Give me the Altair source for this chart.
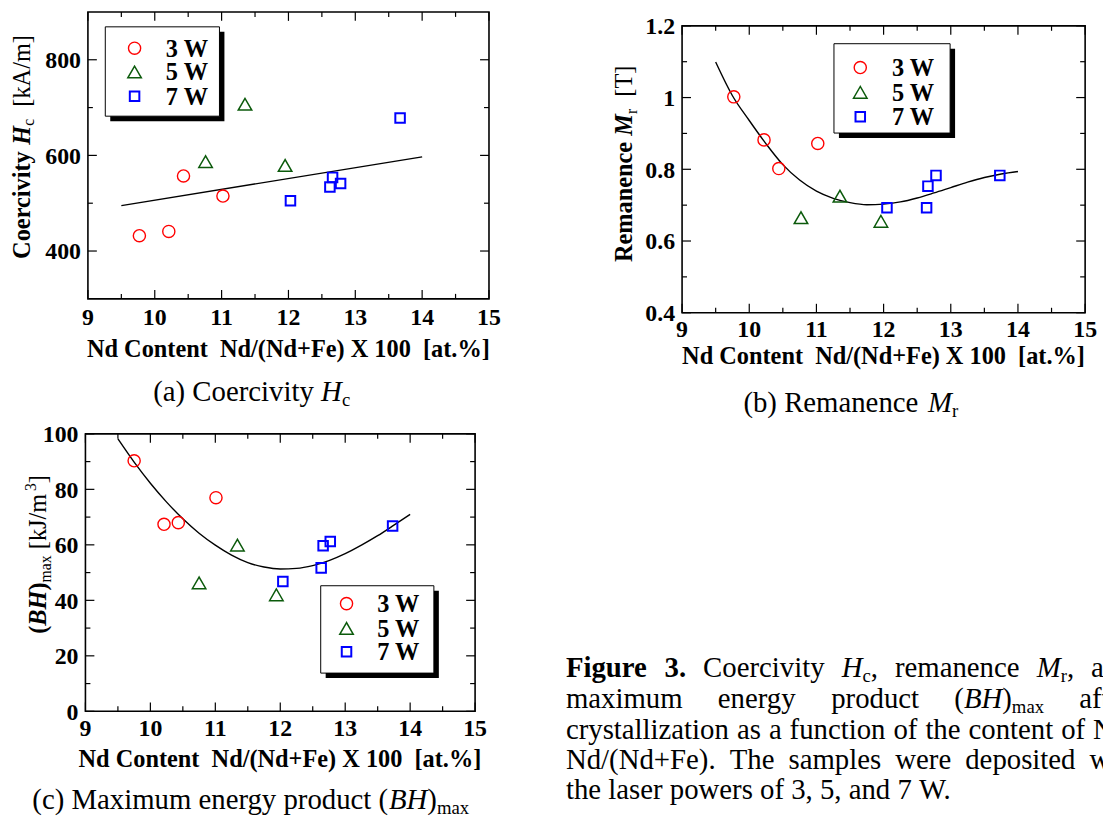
import altair as alt
import pandas as pd

FONT = "Liberation Serif"
OFF = 8  # page margin

# ---------------- data ----------------
series_names = ["3 W", "5 W", "7 W"]

x_tick_values = [9, 10, 11, 12, 13, 14, 15]
x_tick_labels = ["9", "10", "11", "12", "13", "14", "15"]
x_minor_values = [9.5, 10.5, 11.5, 12.5, 13.5, 14.5]

# (a) Coercivity Hc [kA/m]
a_ytick_values = [400, 600, 800]
a_ytick_labels = ["400", "600", "800"]
a_yminor_values = [500, 700]
a_x_3w = [9.77, 10.21, 10.43, 11.02]
a_y_3w = [432, 441, 557, 515]
a_x_5w = [10.76, 11.35, 11.95]
a_y_5w = [587, 707, 579]
a_x_7w = [12.03, 12.62, 12.66, 12.78, 13.67]
a_y_7w = [505, 534, 554, 541, 678]
a_fit_x = [9.5, 14.0]
a_fit_y = [495, 597]

# (b) Remanence Mr [T]
b_ytick_values = [0.4, 0.6, 0.8, 1.0, 1.2]
b_ytick_labels = ["0.4", "0.6", "0.8", "1", "1.2"]
b_yminor_values = [0.5, 0.7, 0.9, 1.1]
b_x_3w = [9.77, 10.22, 10.44, 11.02]
b_y_3w = [1.002, 0.882, 0.802, 0.872]
b_x_5w = [10.77, 11.35, 11.96]
b_y_5w = [0.665, 0.725, 0.655]
b_x_7w = [12.05, 12.64, 12.66, 12.78, 13.73]
b_y_7w = [0.693, 0.693, 0.753, 0.783, 0.783]
b_fit_x = [9.5, 9.75, 10.0, 10.25, 10.5, 10.75, 11.0, 11.25, 11.5, 11.75,
           12.0, 12.25, 12.5, 12.75, 13.0, 13.25, 13.5, 13.75, 14.0]
b_fit_y = [1.099, 1.005, 0.936, 0.871, 0.813, 0.770, 0.739, 0.719, 0.707, 0.701,
           0.703, 0.709, 0.720, 0.734, 0.749, 0.764, 0.777, 0.787, 0.794]

# (c) (BH)max [kJ/m3]
c_ytick_values = [0, 20, 40, 60, 80, 100]
c_ytick_labels = ["0", "20", "40", "60", "80", "100"]
c_yminor_values = [10, 30, 50, 70, 90]
c_x_3w = [9.75, 10.21, 10.43, 11.01]
c_y_3w = [90.3, 67.4, 68.0, 77.0]
c_x_5w = [10.75, 11.34, 11.94]
c_y_5w = [46.3, 59.9, 42.0]
c_x_7w = [12.04, 12.63, 12.66, 12.77, 13.73]
c_y_7w = [46.8, 51.7, 59.7, 61.2, 66.8]
c_fit_x = [9.5, 9.75, 10.0, 10.25, 10.5, 10.75, 11.0, 11.25, 11.5, 11.75,
           12.0, 12.25, 12.5, 12.75, 13.0, 13.25, 13.5, 13.75, 14.0]
c_fit_y = [98.2, 89.8, 82.2, 75.4, 69.4, 64.2, 59.9, 56.3, 53.6, 52.0,
           51.3, 51.5, 52.5, 54.3, 56.8, 59.9, 63.3, 67.1, 71.0]

# ---------------- styles ----------------
COLORS = ["#ff0000", "#0b5a0b", "#0000ff"]
SHAPES = ["circle", "triangle-up", "square"]
SIZES = [150, 185, 92]
STROKES = [1.4, 1.5, 2.0]

# Times-compatible advance widths (per 1000 em) for text layout
REG = {' ': 250, '\u00a0': 250, '(': 333, ')': 333, '+': 564, ',': 250, '.': 250, '/': 278,
       '[': 333, ']': 333, '%': 833, 'A': 722, 'B': 667, 'C': 667, 'F': 556, 'H': 722,
       'M': 889, 'N': 722, 'T': 611, 'W': 944, 'a': 444, 'b': 500, 'c': 444, 'd': 500,
       'e': 444, 'f': 333, 'g': 500, 'h': 500, 'i': 278, 'j': 278, 'k': 500, 'l': 278,
       'm': 778, 'n': 500, 'o': 500, 'p': 500, 'q': 500, 'r': 333, 's': 389, 't': 278,
       'u': 500, 'v': 500, 'w': 722, 'x': 500, 'y': 500, 'z': 444}
BOLD = {' ': 250, '\u00a0': 250, '(': 333, ')': 333, '+': 570, ',': 250, '.': 250, '/': 278,
        '[': 333, ']': 333, '%': 1000, 'C': 722, 'F': 611, 'N': 722, 'R': 722, 'W': 1000,
        'X': 722, 'a': 500, 'c': 444, 'd': 556, 'e': 444, 'g': 500, 'i': 278, 'm': 833,
        'n': 556, 'o': 500, 'r': 444, 't': 333, 'u': 556, 'v': 500, 'y': 500}
ITAL = {'B': 611, 'H': 722, 'M': 833}
BITAL = {'B': 667, 'H': 778, 'M': 889}


def text_width(s, weight, style, size):
    if weight == "bold" and style == "italic":
        t = BITAL
    elif style == "italic":
        t = ITAL
    elif weight == "bold":
        t = BOLD
    else:
        t = REG
    return sum(t.get(ch, REG.get(ch, 500)) for ch in s) * size / 1000.0


records = []


def seg(text, weight="normal", style="normal", scale=1.0, shift=0.0):
    return (text, weight, style, scale, shift)


def segs_width(segs, size):
    return sum(text_width(t, w, s, size * sc) for t, w, s, sc, sh in segs)


def place(segs, x, y, size, angle=0):
    """x, y = page coordinates of the start of the baseline."""
    cum = 0.0
    for t, w, s, sc, sh in segs:
        fs = size * sc
        lead = len(t) - len(t.lstrip(' '))
        lead_w = text_width(t[:lead], w, s, fs)
        body = t.strip(' ').replace(' ', '\u00a0')
        if body:
            if angle == 270:
                px, py = x + sh, y - (cum + lead_w)
            else:
                px, py = x + cum + lead_w, y + sh
            records.append(dict(px=px - OFF, py=py - OFF, text=body, size=fs,
                                angle=angle, weight=w, style=s))
        cum += text_width(t, w, s, fs)
    return cum


def place_center(segs, cx, y, size):
    tot = segs_width(segs, size)
    place(segs, cx - tot / 2.0, y, size)


def place_vertical(segs, xb, cy, size):
    tot = segs_width(segs, size)
    place(segs, xb, cy + tot / 2.0, size, angle=270)


def justify(words, x0, x_last, y, size):
    widths = [segs_width(w, size) for w in words[:-1]]
    gap = (x_last - x0 - sum(widths)) / (len(words) - 1)
    x = x0
    for w, wd in zip(words[:-1], widths):
        place(w, x, y, size)
        x += wd + gap
    place(words[-1], x_last, y, size)


# ---------------- panels ----------------
PANELS = [
    dict(x0=88.5, x1=492.5, y0=9, y1=298, ydom=[300, 900],
         ymaj=a_ytick_values, ylab=a_ytick_labels, ymin=a_yminor_values,
         xlab_dy=26, pts=[(a_x_3w, a_y_3w), (a_x_5w, a_y_5w), (a_x_7w, a_y_7w)],
         fit=(a_fit_x, a_fit_y), interp="linear",
         leg=(106, 24, 221, 114), leg_sym=135.5, leg_txt=167, leg_rows=[45.5, 69.5, 94]),
    dict(x0=687, x1=1093, y0=23, y1=312, ydom=[0.4, 1.2],
         ymaj=b_ytick_values, ylab=b_ytick_labels, ymin=b_yminor_values,
         xlab_dy=24, pts=[(b_x_3w, b_y_3w), (b_x_5w, b_y_5w), (b_x_7w, b_y_7w)],
         fit=(b_fit_x, b_fit_y), interp="monotone",
         leg=(840, 41, 957, 131), leg_sym=866.5, leg_txt=898.5, leg_rows=[65, 90, 114.5]),
    dict(x0=86, x1=478.5, y0=434, y1=713.5, ydom=[0, 100],
         ymaj=c_ytick_values, ylab=c_ytick_labels, ymin=c_yminor_values,
         xlab_dy=25, pts=[(c_x_3w, c_y_3w), (c_x_5w, c_y_5w), (c_x_7w, c_y_7w)],
         fit=(c_fit_x, c_fit_y), interp="monotone",
         leg=(323, 587, 437, 675), leg_sym=349, leg_txt=380, leg_rows=[605, 630, 653.5]),
]

layers = []
TICK_W = 1.2
MAJ, MIN = 9, 5


def rule(df, xs, ys, xf, yf, x2f=None, y2f=None, **kw):
    enc = dict(x=alt.X(xf, scale=xs, axis=None), y=alt.Y(yf, scale=ys, axis=None))
    if x2f:
        enc["x2"] = alt.X2(x2f)
    if y2f:
        enc["y2"] = alt.Y2(y2f)
    return alt.Chart(df).mark_rule(color="black", strokeWidth=TICK_W, **kw).encode(**enc)


for P in PANELS:
    xs = alt.Scale(domain=[9, 15], range=[P["x0"] - OFF, P["x1"] - OFF], nice=False, zero=False)
    ys = alt.Scale(domain=P["ydom"], range=[P["y1"] - OFF, P["y0"] - OFF], nice=False, zero=False)
    lo, hi = P["ydom"]

    # ticks on x (bottom & top, inward)
    for vals, L in [(x_tick_values, MAJ), (x_minor_values, MIN)]:
        dfb = pd.DataFrame({"v": vals, "c": [lo] * len(vals)})
        dft = pd.DataFrame({"v": vals, "c": [hi] * len(vals)})
        layers.append(rule(dfb, xs, ys, "v:Q", "c:Q", y2f="c", y2Offset=-L))
        layers.append(rule(dft, xs, ys, "v:Q", "c:Q", y2f="c", y2Offset=L))
    # ticks on y (left & right, inward)
    for vals, L in [(P["ymaj"], MAJ), (P["ymin"], MIN)]:
        dfl = pd.DataFrame({"v": vals, "c": [9] * len(vals)})
        dfr = pd.DataFrame({"v": vals, "c": [15] * len(vals)})
        layers.append(rule(dfl, xs, ys, "c:Q", "v:Q", x2f="c", x2Offset=L))
        layers.append(rule(dfr, xs, ys, "c:Q", "v:Q", x2f="c", x2Offset=-L))

    # frame
    frame = pd.DataFrame({"xa": [9], "xb": [15], "ya": [lo], "yb": [hi]})
    layers.append(alt.Chart(frame).mark_rect(filled=False, color="black", strokeWidth=1.6).encode(
        x=alt.X("xa:Q", scale=xs, axis=None), x2="xb",
        y=alt.Y("ya:Q", scale=ys, axis=None), y2="yb"))

    # tick labels
    dfx = pd.DataFrame({"v": x_tick_values, "lab": x_tick_labels, "c": [lo] * len(x_tick_values)})
    layers.append(alt.Chart(dfx).mark_text(font=FONT, fontWeight="bold", fontSize=24,
                                           baseline="alphabetic", dy=P["xlab_dy"]).encode(
        x=alt.X("v:Q", scale=xs, axis=None), y=alt.Y("c:Q", scale=ys, axis=None), text="lab:N"))
    dfy = pd.DataFrame({"v": P["ymaj"], "lab": P["ylab"], "c": [9] * len(P["ymaj"])})
    layers.append(alt.Chart(dfy).mark_text(font=FONT, fontWeight="bold", fontSize=24, align="right",
                                           baseline="alphabetic", dx=-7, dy=8.5).encode(
        x=alt.X("c:Q", scale=xs, axis=None), y=alt.Y("v:Q", scale=ys, axis=None), text="lab:N"))

    # fitted curve
    fx, fy = P["fit"]
    layers.append(alt.Chart(pd.DataFrame({"x": fx, "y": fy})).mark_line(
        color="black", strokeWidth=1.4, interpolate=P["interp"]).encode(
        x=alt.X("x:Q", scale=xs, axis=None), y=alt.Y("y:Q", scale=ys, axis=None)))

    # data points
    for i, (px, py) in enumerate(P["pts"]):
        layers.append(alt.Chart(pd.DataFrame({"x": px, "y": py})).mark_point(
            shape=SHAPES[i], filled=False, color=COLORS[i], size=SIZES[i],
            strokeWidth=STROKES[i], opacity=1).encode(
            x=alt.X("x:Q", scale=xs, axis=None), y=alt.Y("y:Q", scale=ys, axis=None)))

    # legend (box with drop shadow)
    bx0, by0, bx1, by1 = P["leg"]
    for dx, style in [(5, dict(color="black")), (0, dict(fill="white", stroke="black", strokeWidth=1))]:
        box = pd.DataFrame({"a": [bx0 + dx - OFF], "b": [bx1 + dx - OFF],
                            "c": [by0 + dx - OFF], "d": [by1 + dx - OFF]})
        layers.append(alt.Chart(box).mark_rect(**style).encode(
            x=alt.X("a:Q", scale=None), x2="b", y=alt.Y("c:Q", scale=None), y2="d"))
    for i, name in enumerate(series_names):
        sym = pd.DataFrame({"px": [P["leg_sym"] - OFF], "py": [P["leg_rows"][i] - OFF]})
        layers.append(alt.Chart(sym).mark_point(
            shape=SHAPES[i], filled=False, color=COLORS[i], size=SIZES[i],
            strokeWidth=STROKES[i], opacity=1).encode(
            x=alt.X("px:Q", scale=None), y=alt.Y("py:Q", scale=None)))
    ltx = pd.DataFrame({"s": series_names, "px": [P["leg_txt"] - OFF] * 3,
                        "py": [r - OFF for r in P["leg_rows"]]})
    layers.append(alt.Chart(ltx).mark_text(font=FONT, fontWeight="bold", fontSize=24.5, align="left",
                                           baseline="alphabetic", dy=8.5).encode(
        x=alt.X("px:Q", scale=None), y=alt.Y("py:Q", scale=None), text="s:N"))

# ---------------- axis titles ----------------
AT = 24.5
XT = "Nd Content  Nd/(Nd+Fe) X 100  [at.%]"
place_center([seg(XT, "bold")], 290.5, 357, AT)
place_center([seg(XT, "bold")], 890, 364, AT)
place_center([seg(XT, "bold")], 282, 770, AT)

place_vertical([seg("Coercivity ", "bold"), seg("H", "bold", "italic"),
                seg("c", "normal", "normal", 0.65, 4.5), seg("  [kA/m]")], 30, 145, AT)
place_vertical([seg("Remanence ", "bold"), seg("M", "bold", "italic"),
                seg("r", "normal", "normal", 0.65, 4.5), seg("  [T]")], 637, 162, AT)
place_vertical([seg("(", "bold"), seg("BH", "bold", "italic"), seg(")", "bold"),
                seg("max", "normal", "normal", 0.65, 5), seg(" [kJ/m"),
                seg("3", "normal", "normal", 0.65, -10), seg("]")], 46, 555.5, AT)

# ---------------- sub-figure captions ----------------
place_center([seg("(a) Coercivity "), seg("H", style="italic"), seg("c", scale=0.65, shift=5)],
             253.5, 401, 29)
place_center([seg("(b) Remanence  "), seg("M", style="italic"), seg("r", scale=0.65, shift=5)],
             857, 412, 29)
place_center([seg("(c) Maximum energy product ("), seg("BH", style="italic"), seg(")"),
              seg("max", scale=0.65, shift=5)], 252.5, 812, 29)

# ---------------- figure caption ----------------
CS = 29
justify([[seg("Figure", "bold")], [seg("3.", "bold")], [seg("Coercivity")],
         [seg("H", style="italic"), seg("c", scale=0.65, shift=5), seg(",")],
         [seg("remanence")],
         [seg("M", style="italic"), seg("r", scale=0.65, shift=5), seg(",")],
         [seg("and")]], 570, 1099, 679, CS)
justify([[seg("maximum")], [seg("energy")], [seg("product")],
         [seg("("), seg("BH", style="italic"), seg(")"), seg("max", scale=0.65, shift=5)],
         [seg("after")]], 570, 1087, 710, CS)
justify([[seg(w)] for w in ["crystallization", "as", "a", "function", "of", "the",
                            "content", "of", "Nd"]], 570, 1101, 741, CS)
justify([[seg(w)] for w in ["Nd/(Nd+Fe).", "The", "samples", "were", "deposited",
                            "with"]], 570, 1097.5, 771.5, CS)
place([seg("the laser powers of 3, 5, and 7 W.")], 570, 802, CS)

ann = pd.DataFrame(records)
for (w, s), g in ann.groupby(["weight", "style"]):
    layers.append(alt.Chart(g.reset_index(drop=True)).mark_text(
        font=FONT, fontWeight=w, fontStyle=s, align="left", baseline="alphabetic",
        color="black").encode(
        x=alt.X("px:Q", scale=None), y=alt.Y("py:Q", scale=None), text="text:N",
        size=alt.Size("size:Q", scale=None), angle=alt.Angle("angle:Q", scale=None)))

chart = alt.layer(*layers).properties(
    width=1103, height=812, padding=0,
    autosize=alt.AutoSizeParams(type="none"), background="white"
).resolve_scale(x="independent", y="independent").configure_view(stroke=None)

chart.save("out.html", embed_options={"renderer": "svg", "actions": False})
